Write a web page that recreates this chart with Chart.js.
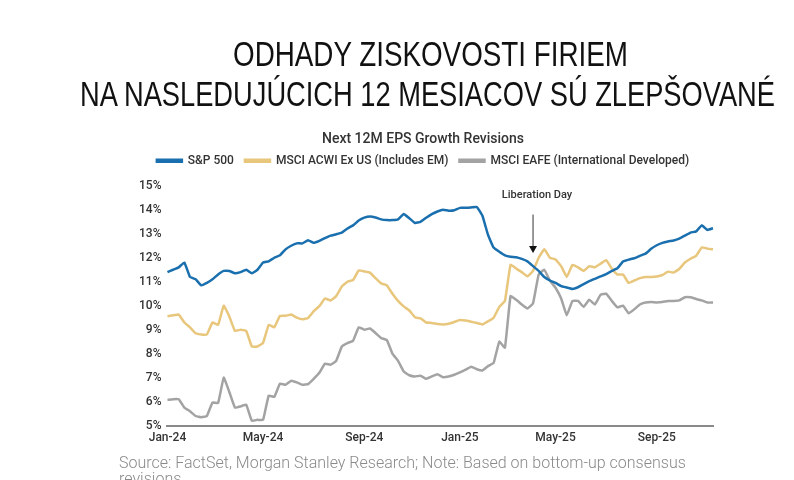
<!DOCTYPE html>
<html>
<head>
<meta charset="utf-8">
<script src="https://cdn.jsdelivr.net/npm/chart.js@4.4.1/dist/chart.umd.min.js"></script>
<style>
  html, body { margin: 0; padding: 0; background: #fff; }
  #page { position: relative; width: 794px; height: 480px; overflow: hidden; }
  .slideTitle {
    position: absolute; left: 0; width: 860px; text-align: center;
    font-family: "Liberation Sans Narrow", "Liberation Sans", sans-serif;
    font-size: 35px; color: #111; white-space: nowrap;
    transform-origin: 0 0;
  }
  #chartBox { position: absolute; left: 0; top: 0; width: 794px; height: 480px; }
  #source {
    position: absolute; left: 119px; top: 455px;
    font-family: Roboto, sans-serif; font-weight: 300; font-size: 16px; line-height: 16px;
    color: #8a8a8a; width: 590px;
  }
</style>
</head>
<body>
<div id="page">
  <div id="chartBox"><canvas id="epsChart"></canvas></div>
  <div class="slideTitle" id="t1" style="top:34px">ODHADY ZISKOVOSTI FIRIEM</div>
  <div class="slideTitle" id="t2" style="top:74px">NA NASLEDUJÚCICH 12 MESIACOV SÚ ZLEPŠOVANÉ</div>
  <div id="source">Source: FactSet, Morgan Stanley Research; Note: Based on bottom-up consensus revisions</div>
</div>
<script>
document.addEventListener('DOMContentLoaded', function() {

    // weekly readings, first week of Jan-24 to mid Nov-25
    const START_DATE = new Date(2024, 0, 5);
    const WEEKS = 98;
    const TICK_MONTHS = [0, 4, 8];
    const MONTHS = ['Jan', 'Feb', 'Mar', 'Apr', 'May', 'Jun', 'Jul', 'Aug', 'Sep', 'Oct', 'Nov', 'Dec'];

    const sp500 = [
        11.4, 11.5, 11.6, 11.8, 11.2, 11.1, 10.85, 10.95, 11.1, 11.3, 11.45, 11.45,
        11.35, 11.4, 11.5, 11.35, 11.5, 11.8, 11.85, 12.0, 12.1, 12.35, 12.5, 12.6,
        12.6, 12.73, 12.62, 12.7, 12.82, 12.92, 12.98, 13.05, 13.22, 13.35, 13.55, 13.67,
        13.72, 13.68, 13.6, 13.57, 13.57, 13.6, 13.82, 13.65, 13.45, 13.5, 13.67, 13.82,
        13.93, 14.0, 13.96, 13.98, 14.08, 14.08, 14.1, 14.12, 13.75, 12.95, 12.42, 12.25,
        12.1, 12.04, 12.02, 11.95, 11.85, 11.65, 11.45, 11.2, 11.05, 10.95, 10.82, 10.76,
        10.7, 10.77, 10.9, 11.02, 11.12, 11.22, 11.32, 11.45, 11.56, 11.84, 11.92, 11.98,
        12.08, 12.17, 12.37, 12.52, 12.62, 12.68, 12.72, 12.8, 12.92, 13.05, 13.1, 13.35,
        13.16, 13.23
    ];
    const acwiExUs = [
        9.56, 9.6, 9.63, 9.3, 9.1, 8.85, 8.8, 8.8, 9.3, 9.2, 10.0, 9.55,
        8.95, 9.0, 8.95, 8.3, 8.3, 8.45, 9.2, 9.1, 9.58, 9.58, 9.63, 9.5,
        9.43, 9.49, 9.77, 9.98, 10.3, 10.22, 10.4, 10.8, 11.0, 11.07, 11.47, 11.43,
        11.38, 11.15, 10.93, 10.85, 10.5, 10.2, 9.97, 9.8, 9.52, 9.47, 9.3, 9.28,
        9.24, 9.22, 9.25, 9.32, 9.4, 9.38, 9.33, 9.28, 9.22, 9.35, 9.5, 9.95,
        10.2, 11.7, 11.55, 11.4, 11.22, 11.45, 12.0, 12.35, 12.0, 11.93, 11.65, 11.2,
        11.7, 11.6, 11.45, 11.65, 11.6, 11.75, 11.9, 11.55, 11.3, 11.3, 10.95, 11.05,
        11.15, 11.2, 11.2, 11.22, 11.28, 11.42, 11.38, 11.53, 11.8, 11.96, 12.08, 12.43,
        12.38, 12.35
    ];
    const eafe = [
        6.07, 6.1, 6.1, 5.75, 5.6, 5.4, 5.35, 5.4, 5.96, 5.94, 7.0, 6.4,
        5.75, 5.8, 5.87, 5.2, 5.24, 5.24, 6.25, 6.2, 6.75, 6.7, 6.87, 6.8,
        6.7, 6.73, 6.95, 7.2, 7.58, 7.54, 7.7, 8.3, 8.44, 8.54, 9.1, 9.0,
        9.05, 8.86, 8.65, 8.57, 8.0, 7.7, 7.26, 7.1, 7.05, 7.08, 6.95, 7.05,
        7.14, 7.02, 7.05, 7.12, 7.22, 7.33, 7.45, 7.35, 7.3, 7.48, 7.62, 8.5,
        8.25, 10.4, 10.25, 10.05, 9.88, 10.1, 11.3, 11.5, 11.05, 10.75, 10.3, 9.6,
        10.2, 10.2, 9.95, 10.25, 10.05, 10.45, 10.5, 10.2, 9.93, 10.0, 9.68, 9.85,
        10.05, 10.13, 10.15, 10.13, 10.15, 10.2, 10.2, 10.22, 10.35, 10.35, 10.28, 10.22,
        10.13, 10.13
    ];

    const SERIES_NAMES = ['S&P 500', 'MSCI ACWI Ex US (Includes EM)', 'MSCI EAFE (International Developed)'];
    const SERIES_COLORS = ['#1a6fae', '#e8c77d', '#a3a3a3'];

    // Liberation Day marker (week index, arrow from/to and label level in %)
    const LIB_INDEX = 65;
    const LIB_ARROW = [13.8, 12.2];
    const LIB_LABEL_Y = 14.6;

    const weekDates = [];
    for (let i = 0; i < WEEKS; i++) {
        weekDates.push(new Date(START_DATE.getTime() + i * 7 * 86400000));
    }
    const labels = weekDates.map(d => MONTHS[d.getMonth()] + '-' + String(d.getFullYear()).slice(2));

    function tickLabel(idx) {
        const d = weekDates[idx];
        if (d && d.getDate() <= 7 && TICK_MONTHS.includes(d.getMonth())) return labels[idx];
        return '';
    }

    // fit the slide title lines to the widths seen on the slide
    function fitTitle(id, left, width) {
        const el = document.getElementById(id);
        el.style.width = 'auto';
        el.style.left = left + 'px';
        const w = el.getBoundingClientRect().width;
        el.style.transform = 'scaleX(' + (width / w) + ')';
    }
    fitTitle('t1', 233, 395);
    fitTitle('t2', 80, 695);

    const liberationDay = {
        id: 'liberationDay',
        afterDatasetsDraw(chart) {
            const { ctx, scales: { x, y } } = chart;
            const px = x.getPixelForValue(LIB_INDEX);
            const yTop = y.getPixelForValue(LIB_ARROW[0]);
            const yBot = y.getPixelForValue(LIB_ARROW[1]);
            ctx.save();
            ctx.strokeStyle = '#333';
            ctx.fillStyle = '#111';
            ctx.lineWidth = 1;
            ctx.beginPath();
            ctx.moveTo(px, yTop);
            ctx.lineTo(px, yBot - 6);
            ctx.stroke();
            ctx.beginPath();
            ctx.moveTo(px - 4, yBot - 7);
            ctx.lineTo(px + 4, yBot - 7);
            ctx.lineTo(px, yBot);
            ctx.closePath();
            ctx.fill();
            ctx.font = '500 11px Roboto, sans-serif';
            ctx.fillStyle = '#333';
            ctx.textAlign = 'center';
            ctx.textBaseline = 'middle';
            ctx.fillText('Liberation Day', px + 4, y.getPixelForValue(LIB_LABEL_Y));
            ctx.restore();
        }
    };

    const legendGap = {
        id: 'legendGap',
        beforeInit(chart) {
            const fit = chart.legend.fit;
            chart.legend.fit = function() {
                fit.bind(chart.legend)();
                this.height += 9;
            };
        }
    };

    const ctx = document.getElementById('epsChart');
    new Chart(ctx, {
        type: 'line',
        data: {
            labels,
            datasets: [
                { label: SERIES_NAMES[0], data: sp500, borderColor: SERIES_COLORS[0], backgroundColor: SERIES_COLORS[0] },
                { label: SERIES_NAMES[1], data: acwiExUs, borderColor: SERIES_COLORS[1], backgroundColor: SERIES_COLORS[1] },
                { label: SERIES_NAMES[2], data: eafe, borderColor: SERIES_COLORS[2], backgroundColor: SERIES_COLORS[2] }
            ]
        },
        options: {
            responsive: true,
            maintainAspectRatio: false,
            animation: false,
            elements: {
                line: { borderWidth: 2.5, tension: 0.1 },
                point: { radius: 0 }
            },
            layout: { padding: { top: 131, left: 133, right: 81, bottom: 30 } },
            plugins: {
                title: {
                    display: true,
                    text: 'Next 12M EPS Growth Revisions',
                    color: '#333',
                    font: { family: 'Roboto', size: 14, weight: '500' },
                    padding: { top: 0, bottom: -4 }
                },
                legend: {
                    position: 'top',
                    labels: {
                        color: '#333',
                        font: { family: 'Roboto', size: 12, weight: '500' },
                        boxWidth: 25,
                        boxHeight: 2,
                        padding: 11
                    }
                },
                tooltip: { enabled: false }
            },
            scales: {
                x: {
                    grid: { display: false, drawTicks: false },
                    border: { display: true, color: '#8a8a8a', width: 2 },
                    ticks: {
                        autoSkip: false,
                        maxRotation: 0,
                        padding: 5,
                        color: '#333',
                        font: { family: 'Roboto', size: 12, weight: '500' },
                        callback: (val, idx) => tickLabel(idx)
                    }
                },
                y: {
                    min: 5,
                    max: 15,
                    grid: { display: false, drawTicks: false },
                    border: { display: false },
                    ticks: {
                        stepSize: 1,
                        padding: 6,
                        color: '#333',
                        font: { family: 'Roboto', size: 12, weight: '500' },
                        callback: val => val + '%'
                    }
                }
            }
        },
        plugins: [liberationDay, legendGap]
    });

});
</script>
</body>
</html>
